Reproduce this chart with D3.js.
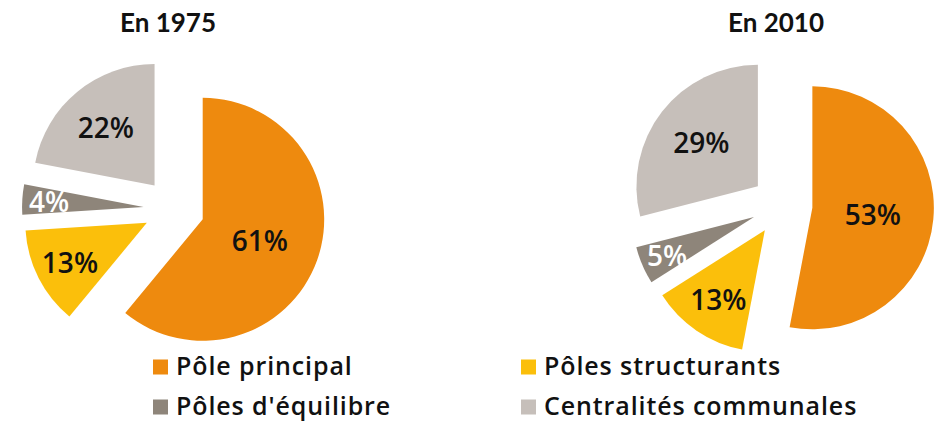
<!DOCTYPE html>
<html>
<head>
<meta charset="utf-8">
<script src="https://cdn.jsdelivr.net/npm/d3@7"></script>
<style>
  body { margin: 0; background: #fff; }
  svg { display: block; font-family: "Open Sans", "Lato", sans-serif; }
</style>
</head>
<body>
<div id="visualization"></div>
<script>
// categories and values
var categories = ["Pôle principal", "Pôles structurants", "Pôles d'équilibre", "Centralités communales"];
var colors = ["#ee8a0e", "#fbbf0b", "#8e857a", "#c6bfba"];
var years = ["En 1975", "En 2010"];
var values1975 = [61, 13, 4, 22];
var values2010 = [53, 13, 5, 29];

var width = 934;
var height = 422;
var radius = 121.5;
var explode = 30.5;

var svg = d3.select("#visualization")
            .append("svg")
            .attr("width", width)
            .attr("height", height);

// one pie per year
var charts = [
  { title: years[0], values: values1975, cx: 174, cy: 209, labelFrac: [0.5, 0.71, 0.78, 0.63] },
  { title: years[1], values: values2010, cx: 782, cy: 205, labelFrac: [0.5, 0.68, 0.78, 0.59] }
];

var pie = d3.pie().sort(null).value(function(d) { return d; });
var arc = d3.arc().innerRadius(0).outerRadius(radius);

charts.forEach(function(c) {
  svg.append("text")
     .attr("x", c.cx - 6)
     .attr("y", 32)
     .attr("text-anchor", "middle")
     .style("font-family", "Lato, sans-serif")
     .style("font-size", "26px")
     .style("font-weight", "bold")
     .attr("fill", "#111")
     .text(c.title);

  var g = svg.append("g")
             .attr("transform", "translate(" + c.cx + "," + c.cy + ")");

  var slices = g.selectAll("g.slice")
                .data(pie(c.values))
                .join("g")
                .attr("class", "slice")
                .attr("transform", function(d) {
                  var mid = (d.startAngle + d.endAngle) / 2;
                  return "translate(" + (Math.sin(mid) * explode) + "," + (-Math.cos(mid) * explode) + ")";
                });

  slices.append("path")
        .attr("d", arc)
        .attr("fill", function(d, i) { return colors[i]; });

  slices.append("text")
        .attr("x", function(d, i) { var mid = (d.startAngle + d.endAngle) / 2; return Math.sin(mid) * radius * c.labelFrac[i]; })
        .attr("y", function(d, i) { var mid = (d.startAngle + d.endAngle) / 2; return -Math.cos(mid) * radius * c.labelFrac[i]; })
        .attr("text-anchor", "middle")
        .attr("dominant-baseline", "central")
        .style("font-size", "28px")
        .style("font-weight", "600")
        .attr("fill", function(d, i) { return i === 2 ? "#fff" : "#111"; })
        .text(function(d) { return d.data + "%"; });
});

// legend, 2 x 2
var legendX = [153, 521];
var legendY = [374.5, 414.5];
var legend = svg.append("g")
                .selectAll("g")
                .data(categories)
                .join("g")
                .attr("transform", function(d, i) {
                  return "translate(" + legendX[i % 2] + "," + legendY[Math.floor(i / 2)] + ")";
                });

legend.append("rect")
      .attr("x", 0)
      .attr("y", -15)
      .attr("width", 15)
      .attr("height", 15)
      .attr("fill", function(d, i) { return colors[i]; });

legend.append("text")
      .attr("x", 23)
      .attr("y", 0)
      .style("font-size", "25px")
      .style("font-weight", "600")
      .style("letter-spacing", "0.9px")
      .attr("fill", "#111")
      .text(function(d) { return d; });
</script>
</body>
</html>
